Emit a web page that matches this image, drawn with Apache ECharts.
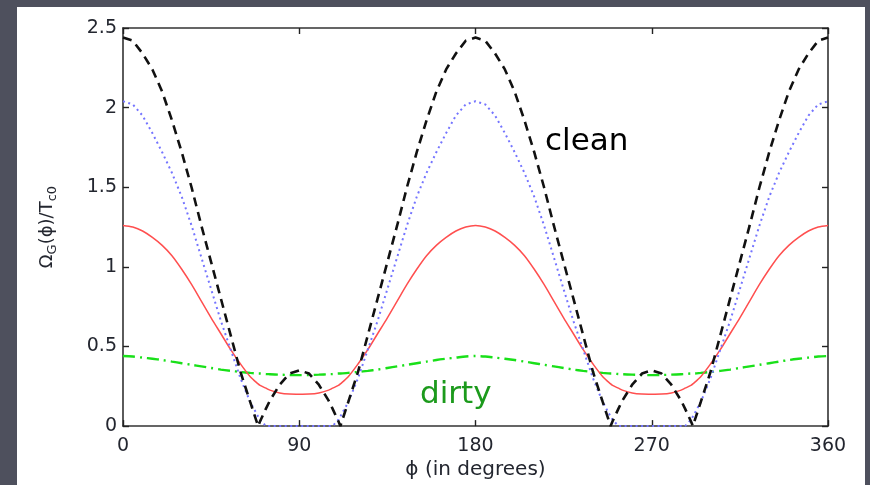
<!DOCTYPE html>
<html>
<head>
<meta charset="utf-8">
<script src="https://cdn.jsdelivr.net/npm/echarts@6/dist/echarts.min.js"></script>
<style>
  html, body { margin: 0; padding: 0; width: 870px; height: 485px; overflow: hidden; background: #4e505d; }
  #chart { position: absolute; left: 17px; top: 7px; width: 848px; height: 478px; background: #ffffff; }
</style>
</head>
<body>
<div id="chart"></div>
<script>
// Angle samples (degrees), shared by every curve
const phi = [
  0,5,10,15,20,25,30,35,40,45,50,55,60,65,69,70,73,75,80,85,90,95,100,105,107,110,111,115,120,125,130,135,140,145,150,155,160,165,170,175,
  180,185,190,195,200,205,210,215,220,225,230,235,240,245,249,250,253,255,260,265,270,275,280,285,287,290,291,295,300,305,310,315,320,325,330,335,340,345,350,355,360
];

// Clean limit, black dashed curve
const cleanDashed = [
  2.44,2.42,2.34,2.24,2.10,1.92,1.72,1.50,1.26,1.03,0.80,0.57,0.34,0.15,0.00,0.03,0.11,0.16,0.26,0.33,0.35,0.33,0.26,0.16,0.11,0.03,0.00,0.15,0.34,0.57,0.80,1.03,1.26,1.50,1.72,1.92,2.10,2.24,2.34,2.42,
  2.44,2.42,2.34,2.24,2.10,1.92,1.72,1.50,1.26,1.03,0.80,0.57,0.34,0.15,0.00,0.03,0.11,0.16,0.26,0.33,0.35,0.33,0.26,0.16,0.11,0.03,0.00,0.15,0.34,0.57,0.80,1.03,1.26,1.50,1.72,1.92,2.10,2.24,2.34,2.42,
  2.44
];

// Blue dotted curve
const cleanDotted = [
  2.04,2.02,1.95,1.84,1.72,1.59,1.44,1.26,1.06,0.86,0.66,0.48,0.30,0.15,0.06,0.04,0.00,0.00,0.00,0.00,0.00,0.00,0.00,0.00,0.00,0.04,0.06,0.15,0.30,0.48,0.66,0.86,1.06,1.26,1.44,1.59,1.72,1.84,1.95,2.02,
  2.04,2.02,1.95,1.84,1.72,1.59,1.44,1.26,1.06,0.86,0.66,0.48,0.30,0.15,0.06,0.04,0.00,0.00,0.00,0.00,0.00,0.00,0.00,0.00,0.00,0.04,0.06,0.15,0.30,0.48,0.66,0.86,1.06,1.26,1.44,1.59,1.72,1.84,1.95,2.02,
  2.04
];

// Intermediate disorder, red solid curve
const middleSolid = [
  1.26,1.25,1.225,1.185,1.135,1.07,0.985,0.89,0.785,0.68,0.58,0.48,0.39,0.31,0.265,0.256,0.238,0.226,0.208,0.201,0.20,0.201,0.208,0.226,0.238,0.256,0.265,0.31,0.39,0.48,0.58,0.68,0.785,0.89,0.985,1.07,1.135,1.185,1.225,1.25,
  1.26,1.25,1.225,1.185,1.135,1.07,0.985,0.89,0.785,0.68,0.58,0.48,0.39,0.31,0.265,0.256,0.238,0.226,0.208,0.201,0.20,0.201,0.208,0.226,0.238,0.256,0.265,0.31,0.39,0.48,0.58,0.68,0.785,0.89,0.985,1.07,1.135,1.185,1.225,1.25,
  1.26
];

// Dirty limit, green dash-dot curve
const dirtyDashDot = [
  0.44,0.437,0.43,0.423,0.415,0.405,0.395,0.385,0.375,0.365,0.355,0.347,0.34,0.334,0.33,0.33,0.327,0.326,0.323,0.321,0.32,0.321,0.323,0.326,0.327,0.33,0.33,0.334,0.34,0.347,0.355,0.365,0.375,0.385,0.395,0.405,0.415,0.423,0.43,0.437,
  0.44,0.437,0.43,0.423,0.415,0.405,0.395,0.385,0.375,0.365,0.355,0.347,0.34,0.334,0.33,0.33,0.327,0.326,0.323,0.321,0.32,0.321,0.323,0.326,0.327,0.33,0.33,0.334,0.34,0.347,0.355,0.365,0.375,0.385,0.395,0.405,0.415,0.423,0.43,0.437,
  0.44
];

const xTicks = { min: 0, max: 360, step: 90 };
const yTicks = { min: 0, max: 2.5, step: 0.5 };

const pairs = vals => phi.map((p, i) => [p, vals[i]]);

const labelFont = { fontFamily: 'DejaVu Sans', fontSize: 19, color: '#23262f' };
const frameLine = { show: true, onZero: false, lineStyle: { color: '#333', width: 1.6 } };
const tickIn = { show: true, inside: true, length: 6, lineStyle: { color: '#222', width: 1.4 } };

const chart = echarts.init(document.getElementById('chart'));
chart.setOption({
  animation: false,
  grid: { left: 106, right: 37, top: 21, bottom: 51 },
  xAxis: [
    {
      type: 'value', min: xTicks.min, max: xTicks.max, interval: xTicks.step,
      axisLine: frameLine, axisTick: tickIn, splitLine: { show: false },
      axisLabel: Object.assign({ margin: 10 }, labelFont),
      name: 'ϕ (in degrees)', nameLocation: 'middle', nameGap: 29,
      nameTextStyle: { fontFamily: 'DejaVu Sans', fontSize: 20, color: '#23262f' }
    },
    {
      type: 'value', position: 'top', min: xTicks.min, max: xTicks.max, interval: xTicks.step,
      axisLine: frameLine, axisTick: tickIn, splitLine: { show: false }, axisLabel: { show: false }
    }
  ],
  yAxis: [
    {
      type: 'value', min: yTicks.min, max: yTicks.max, interval: yTicks.step,
      axisLine: frameLine, axisTick: tickIn, splitLine: { show: false },
      axisLabel: Object.assign({ margin: 6 }, labelFont),
      name: 'Ω{sub|G}(ϕ)/T{sub|c0}', nameLocation: 'middle', nameGap: 64, nameRotate: 90,
      nameTextStyle: {
        fontFamily: 'DejaVu Sans', fontSize: 18, color: '#23262f',
        rich: { sub: { fontFamily: 'DejaVu Sans', fontSize: 13, color: '#23262f', padding: [10, 0, 0, 0] } }
      }
    },
    {
      type: 'value', position: 'right', min: yTicks.min, max: yTicks.max, interval: yTicks.step,
      axisLine: frameLine, axisTick: tickIn, splitLine: { show: false }, axisLabel: { show: false }
    }
  ],
  series: [
    {
      type: 'line', name: 'dirty', data: pairs(dirtyDashDot), showSymbol: false, smooth: 0.3,
      lineStyle: { color: '#19e019', width: 2.4, type: [12, 5, 2, 5] }
    },
    {
      type: 'line', name: 'middle', data: pairs(middleSolid), showSymbol: false, smooth: 0.3,
      lineStyle: { color: '#ff4f4f', width: 1.5, type: 'solid' }
    },
    {
      type: 'line', name: 'dotted', data: pairs(cleanDotted), showSymbol: false,
      lineStyle: { color: '#7474ff', width: 2, type: [2, 3.5] }
    },
    {
      type: 'line', name: 'clean', data: pairs(cleanDashed), showSymbol: false,
      lineStyle: { color: '#111111', width: 2.6, type: [9, 6] }
    }
  ],
  graphic: [
    { type: 'text', left: 528, top: 119, style: { text: 'clean', fontFamily: 'DejaVu Sans', fontSize: 31, fill: '#000000' } },
    { type: 'text', left: 403, top: 372, style: { text: 'dirty', fontFamily: 'DejaVu Sans', fontSize: 31, fill: '#1c9a1c' } }
  ]
});
</script>
</body>
</html>
